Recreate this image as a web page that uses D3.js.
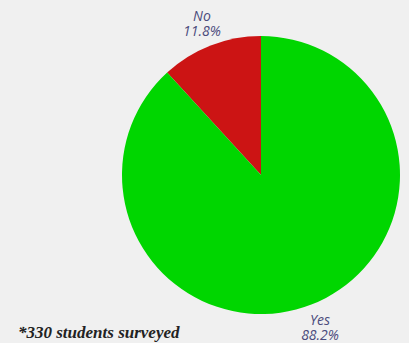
<!DOCTYPE html>
<html lang="en">
<head>
<meta charset="UTF-8">
<script src="https://d3js.org/d3.v7.min.js"></script>
<style>
  body { margin: 0; background: #f0f0f0; }
  .label { font-family: "Open Sans", sans-serif; font-style: italic; font-size: 14px; fill: #4b4b7c; }
  .note { font-family: "Liberation Serif", serif; font-style: italic; font-weight: bold; font-size: 17px; fill: #222; }
</style>
</head>
<body>
<svg id="chart" width="409" height="343"></svg>
<script>
  const answers = ["No", "Yes"];
  const shares = [11.8, 88.2];
  const sliceColors = ["#cc1414", "#00d600"];

  const svg = d3.select("#chart");
  const cx = 261, cy = 175, radius = 139;
  const g = svg.append("g").attr("transform", `translate(${cx},${cy})`);

  // slices run counter-clockwise from 12 o'clock
  const pie = d3.pie().sort(null).value(d => d.value).startAngle(0).endAngle(-2 * Math.PI);
  const data = answers.map((a, i) => ({ name: a, value: shares[i], color: sliceColors[i] }));
  const arcs = pie(data);

  const arc = d3.arc().innerRadius(0).outerRadius(radius);
  const labelArc = d3.arc().innerRadius(163).outerRadius(163);

  g.selectAll("path.slice").data(arcs)
    .join("path")
    .attr("class", "slice")
    .attr("d", arc)
    .attr("fill", d => d.data.color);

  const labels = g.selectAll("text.label").data(arcs)
    .join("text")
    .attr("class", "label")
    .attr("text-anchor", "middle")
    .attr("transform", d => `translate(${labelArc.centroid(d)})`);
  labels.append("tspan").attr("x", 0).attr("y", -2).text(d => d.data.name);
  labels.append("tspan").attr("x", 0).attr("y", 13).text(d => d.data.value.toFixed(1) + "%");

  svg.append("text")
    .attr("class", "note")
    .attr("x", 18)
    .attr("y", 338)
    .text("*330 students surveyed");
</script>
</body>
</html>
